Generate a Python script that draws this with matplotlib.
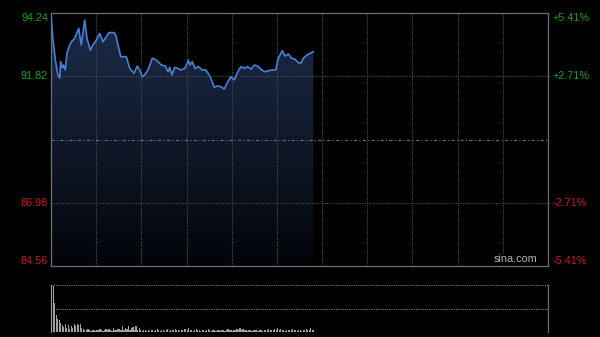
import numpy as np
import matplotlib
matplotlib.use("Agg")
import matplotlib.pyplot as plt
from matplotlib.patches import Polygon
from matplotlib.colors import LinearSegmentedColormap

# ---- data ----
prev_close = 89.40
price_ticks_left = [94.24, 91.82, 86.98, 84.56]
pct_ticks_right = ["+5.41%", "+2.71%", "-2.71%", "-5.41%"]
total_minutes = 330

minutes = [0, 1.1, 2.9, 4.6, 5.8, 6.4, 7.5, 8.4, 9.5, 10.6, 12.0, 13.5, 15.7, 18.4,
           20.1, 22.4, 23.9, 26.1, 27.9, 30.1, 32.3, 34.5, 36.7, 38.5, 41.8, 43.0,
           44.5, 46.3, 50.0, 52.3, 55.1, 57.3, 58.9, 60.6, 62.2, 64.4, 67.3, 69.9,
           73.2, 75.9, 77.7, 78.8, 80.3, 82.1, 84.3, 86.1, 88.8, 90.5, 91.2, 92.3, 93.8,
           95.6, 97.8, 100.5, 102.7, 104.4, 106.2, 108.4, 110.7, 112.9, 115.1, 117.3,
           119.5, 121.7, 124.0, 126.2, 128.4, 130.6, 132.8, 135.0, 137.2, 139.9,
           142.1, 144.3, 146.5, 149.2, 150.9, 153.6, 155.4, 157.6, 159.8, 162.0,
           164.2, 166.0, 167.5, 169.8, 172.0, 174.2]
prices = [94.16, 93.33, 92.44, 91.87, 91.75, 92.38, 92.14, 92.25, 92.06, 92.71,
          92.95, 93.14, 93.27, 93.65, 93.02, 93.97, 93.27, 92.82, 93.02, 93.21,
          93.46, 93.14, 93.33, 93.49, 93.49, 93.40, 93.02, 92.57, 92.57, 92.12,
          91.93, 92.21, 92.06, 91.80, 91.87, 92.06, 92.51, 92.44, 92.25, 92.21,
          91.99, 92.16, 91.87, 92.16, 92.12, 92.06, 92.12, 92.32, 92.44, 92.25,
          92.38, 92.12, 92.19, 92.06, 92.06, 91.93, 91.74, 91.40, 91.45, 91.42,
          91.33, 91.61, 91.80, 91.68, 91.99, 92.19, 92.12, 92.19, 92.09, 92.25,
          92.21, 92.06, 91.99, 92.03, 92.06, 92.06, 92.51, 92.80, 92.59, 92.67,
          92.51, 92.47, 92.34, 92.32, 92.51, 92.63, 92.70, 92.76]

volumes = [1.00, 0.97, 0.62, 0.36, 0.28, 0.26, 0.19, 0.15, 0.10, 0.16,
           0.09, 0.15, 0.07, 0.13, 0.08, 0.18, 0.13, 0.16, 0.15, 0.18,
           0.09, 0.07, 0.05, 0.04, 0.06, 0.04, 0.03, 0.05, 0.04, 0.03,
           0.05, 0.04, 0.06, 0.04, 0.03, 0.05, 0.07, 0.04, 0.06, 0.05,
           0.03, 0.08, 0.04, 0.05, 0.07, 0.06, 0.04, 0.12, 0.05, 0.09,
           0.06, 0.12, 0.05, 0.08, 0.11, 0.04, 0.12, 0.05, 0.09, 0.04,
           0.03, 0.05, 0.04, 0.03, 0.04, 0.03, 0.05, 0.04, 0.03, 0.05,
           0.06, 0.04, 0.03, 0.04, 0.05, 0.03, 0.04, 0.06, 0.03, 0.04,
           0.05, 0.04, 0.06, 0.05, 0.04, 0.03, 0.05, 0.04, 0.06, 0.07,
           0.05, 0.08, 0.04, 0.05, 0.03, 0.04, 0.06, 0.05, 0.04, 0.03,
           0.04, 0.05, 0.03, 0.04, 0.06, 0.04, 0.03, 0.05, 0.04, 0.03,
           0.04, 0.05, 0.03, 0.04, 0.05, 0.03, 0.04, 0.06, 0.05, 0.04,
           0.03, 0.05, 0.04, 0.07, 0.05, 0.08, 0.04, 0.06, 0.05, 0.04,
           0.03, 0.04, 0.05, 0.03, 0.04, 0.05, 0.04, 0.03, 0.05, 0.04,
           0.03, 0.04, 0.05, 0.04, 0.06, 0.05, 0.04, 0.05, 0.07, 0.05,
           0.08, 0.04, 0.06, 0.05, 0.04, 0.03, 0.05, 0.04, 0.05, 0.04,
           0.06, 0.05, 0.04, 0.03, 0.05, 0.04, 0.03, 0.05, 0.04, 0.06,
           0.05, 0.04, 0.09, 0.05, 0.04]

# ---- style ----
BG = "#000000"
GRID = "#4a4a4a"
BORDER = "#6e6e6e"
LINE = "#4a7fd6"
GREEN = "#17a317"
RED = "#cc1a1a"
FONT = ["Liberation Sans", "DejaVu Sans"]

fig = plt.figure(figsize=(6.0, 3.37), dpi=100, facecolor=BG)
ax = fig.add_axes([51/600, 1-266/337, 497/600, 253/337], facecolor=BG)
axv = fig.add_axes([51/600, 1-332/337, 497/600, 47/337], facecolor=BG)

ymin, ymax = price_ticks_left[-1], price_ticks_left[0]
ax.set_xlim(0, total_minutes)
ax.set_ylim(ymin, ymax)

# gradient fill under the price line
grad = np.linspace(0, 1, 256).reshape(-1, 1)
cmap = LinearSegmentedColormap.from_list("g", ["#030408", "#1c2c4b"])
im = ax.imshow(grad, extent=[0, total_minutes, ymin, max(prices)], origin="lower",
               aspect="auto", cmap=cmap, zorder=1)
poly_pts = [(minutes[0], ymin)] + list(zip(minutes, prices)) + [(minutes[-1], ymin)]
clip = Polygon(poly_pts, closed=True, transform=ax.transData, facecolor="none", edgecolor="none")
ax.add_patch(clip)
im.set_clip_path(clip)

# grid
for m in range(30, total_minutes, 30):
    ax.axvline(m, color=GRID, lw=0.8, ls=(0, (1, 1)), zorder=2)
for p in [price_ticks_left[1], price_ticks_left[2]]:
    ax.axhline(p, color=GRID, lw=0.8, ls=(0, (1, 1)), zorder=2)
ax.axhline(prev_close, color="#6a6a6a", lw=0.8, ls=(0, (3, 2, 1, 2)), zorder=2)

ax.plot(minutes, prices, color=LINE, lw=1.2, zorder=4)

for s in ax.spines.values():
    s.set_color(BORDER)
    s.set_linewidth(0.9)
ax.set_xticks([])
ax.set_yticks([])

# axis labels
tf = ax.get_yaxis_transform()
colors = [GREEN, GREEN, RED, RED]
vas = ["top", "center", "center", "bottom"]
for p, pc, c, va in zip(price_ticks_left, pct_ticks_right, colors, vas):
    ax.text(-0.006, p, f"{p:.2f}", transform=tf, ha="right", va=va, color=c,
            fontsize=7.8, family=FONT)
    ax.text(1.009, p, pc, transform=tf, ha="left", va=va, color=c,
            fontsize=7.8, family=FONT)

ax.text(0.978, 0.006, "sina.com", transform=ax.transAxes, ha="right", va="bottom",
        color="#b4b4b4", fontsize=7.8, family=FONT, zorder=6,
        bbox=dict(facecolor=BG, edgecolor="none", pad=0.5))

# volume panel
axv.set_xlim(0, total_minutes)
axv.set_ylim(0, 1.0)
vx = np.arange(len(volumes)) + 0.5
axv.bar(vx, volumes, width=0.8, color="#a0a0a0", linewidth=0, zorder=3)
for yv in [0.0, 0.5, 1.0]:
    axv.axhline(yv, color="#7a7a7a", lw=0.8, ls=(0, (1, 1)), zorder=2)
for k, s in axv.spines.items():
    s.set_visible(k in ("left", "right"))
    s.set_color(BORDER)
    s.set_linewidth(0.9)
axv.set_xticks([])
axv.set_yticks([])

fig.savefig("out.png", dpi=100, facecolor=BG)
